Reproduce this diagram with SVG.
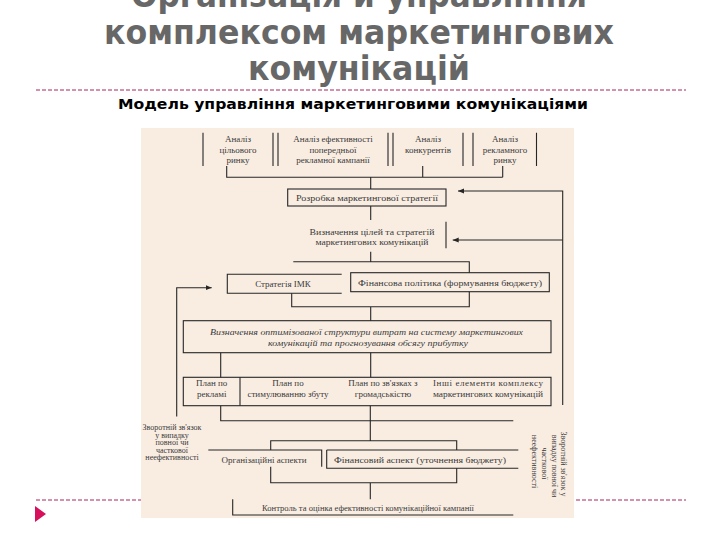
<svg xmlns="http://www.w3.org/2000/svg" width="720" height="540" viewBox="0 0 720 540">
<defs>
<style>
.title{font-family:"DejaVu Sans","Liberation Sans",sans-serif;font-weight:bold;font-size:34px;fill:#676767;text-anchor:middle}
.sub{font-family:"DejaVu Sans","Liberation Sans",sans-serif;font-weight:bold;font-size:14.5px;fill:#000;text-anchor:middle}
.rule{stroke:#a8245e;stroke-width:1;stroke-dasharray:4 2;fill:none}
.ln{stroke:#262626;stroke-width:1.1;fill:none}
.t{font-family:"Liberation Serif","Times New Roman",serif;font-size:9px;fill:#3a3a3a;text-anchor:middle}
.ts{font-size:8px}
.ti{font-style:italic}
</style>
<marker id="arr" markerWidth="6" markerHeight="6" refX="6" refY="3" orient="auto" markerUnits="userSpaceOnUse">
<path d="M0,0.5 L6,3 L0,5.5 z" fill="#262626"/>
</marker>
</defs>
<rect width="720" height="540" fill="#ffffff"/>
<g id="title">
<text class="title" x="359" y="7" textLength="456" lengthAdjust="spacingAndGlyphs">Організація й управління</text>
<text class="title" x="359" y="44" textLength="510" lengthAdjust="spacingAndGlyphs">комплексом маркетингових</text>
<text class="title" x="359" y="80" textLength="222" lengthAdjust="spacingAndGlyphs">комунікацій</text>
</g>
<line class="rule" x1="36" y1="90" x2="686" y2="90"/>
<line class="rule" x1="36" y1="500" x2="686" y2="500"/>
<polygon points="35,506 46,514 35,522" fill="#d6105a"/>
<g id="subtitle">
<text class="sub" x="353" y="109" textLength="470" lengthAdjust="spacingAndGlyphs">Модель управління маркетинговими комунікаціями</text>
</g>
<rect x="141" y="128" width="433" height="390" fill="#f9ede2"/>

<g id="n-analiz-rynku">
<path class="ln" d="M203,132.7 V166 M273,132.7 V166"/>
<text class="t" x="238" y="142">Аналіз</text>
<text class="t" x="238" y="152.5">цільового</text>
<text class="t" x="238" y="163">ринку</text>
</g>
<g id="n-analiz-kampanii">
<path class="ln" d="M278,132.7 V166 M388,132.7 V166"/>
<text class="t" x="333" y="142">Аналіз ефективності</text>
<text class="t" x="333" y="152.5">попередньої</text>
<text class="t" x="333" y="163">рекламної кампанії</text>
</g>
<g id="n-analiz-konkurentiv">
<path class="ln" d="M393,132.7 V166 M463,132.7 V166"/>
<text class="t" x="428" y="142">Аналіз</text>
<text class="t" x="428" y="152.5">конкурентів</text>
</g>
<g id="n-analiz-reklamnogo">
<path class="ln" d="M473,132.7 V166 M536.5,132.7 V166"/>
<text class="t" x="505" y="142">Аналіз</text>
<text class="t" x="505" y="152.5">рекламного</text>
<text class="t" x="505" y="163">ринку</text>
</g>

<g id="n-rozrobka">
<rect class="ln" x="287.7" y="189" width="158.3" height="17"/>
<text class="t" x="367" y="200.5" textLength="142" lengthAdjust="spacingAndGlyphs">Розробка маркетингової стратегії</text>
</g>
<g id="n-vyznachennia">
<path class="ln" d="M446,221.7 V248.3"/>
<text class="t" x="372" y="234.5" textLength="125" lengthAdjust="spacingAndGlyphs">Визначення цілей та стратегій</text>
<text class="t" x="372" y="245" textLength="113" lengthAdjust="spacingAndGlyphs">маркетингових комунікацій</text>
</g>
<g id="n-strategiia-imk">
<path class="ln" d="M341.7,274.3 H227.3 V293.3 H341.7"/>
<text class="t" x="283" y="286.5">Стратегія ІМК</text>
</g>
<g id="n-finansova">
<rect class="ln" x="350.7" y="272.7" width="198.6" height="19"/>
<text class="t" x="450" y="285.5" textLength="184" lengthAdjust="spacingAndGlyphs">Фінансова політика (формування бюджету)</text>
</g>
<g id="n-optymizatsiia">
<rect class="ln" x="183.3" y="320.7" width="367.7" height="32"/>
<text class="t ti" x="366.5" y="334.5" textLength="313" lengthAdjust="spacingAndGlyphs">Визначення оптимізованої структури витрат на систему маркетингових</text>
<text class="t ti" x="368" y="345.5" textLength="200" lengthAdjust="spacingAndGlyphs">комунікацій та прогнозування обсягу прибутку</text>
</g>
<g id="n-plany">
<rect class="ln" x="183.3" y="377.3" width="367.7" height="28.4"/>
<path class="ln" d="M240,377.3 V405.7"/>
<text class="t" x="211.7" y="385.5">План по</text>
<text class="t" x="211.7" y="396.5">рекламі</text>
<text class="t" x="288" y="385.5">План по</text>
<text class="t" x="288" y="396.5">стимулюванню збуту</text>
<text class="t" x="383" y="385.5">План по зв'язках з</text>
<text class="t" x="383" y="396.5">громадськістю</text>
<text class="t" x="488" y="385.5" textLength="110" lengthAdjust="spacing">Інші елементи комплексу</text>
<text class="t" x="488" y="396.5" textLength="110" lengthAdjust="spacingAndGlyphs">маркетингових комунікацій</text>
</g>
<g id="n-feedback-left">
<text class="t ts" x="172" y="430">Зворотній зв'язок</text>
<text class="t ts" x="172" y="437.5">у випадку</text>
<text class="t ts" x="172" y="445">повної чи</text>
<text class="t ts" x="172" y="452.5">часткової</text>
<text class="t ts" x="172" y="460">неефективності</text>
</g>
<g id="n-org-aspekty">
<path class="ln" d="M208.3,450 H321.7 V466.7"/>
<text class="t" x="264" y="462.5">Організаційні аспекти</text>
</g>
<g id="n-fin-aspekt">
<path class="ln" d="M326.7,450 H518.3 M326.7,450 V468.3 H518.3"/>
<text class="t" x="420" y="462.5" textLength="172" lengthAdjust="spacingAndGlyphs">Фінансовий аспект (уточнення бюджету)</text>
</g>
<g id="n-kontrol">
<path class="ln" d="M232.7,499.3 V515 H513.3"/>
<text class="t" x="368" y="511" textLength="212" lengthAdjust="spacingAndGlyphs">Контроль та оцінка ефективності комунікаційної кампанії</text>
</g>
<g id="n-feedback-right">
<text class="t ts" transform="translate(561,464) rotate(90)">Зворотній зв'язок у</text>
<text class="t ts" transform="translate(552,466) rotate(90)">випадку повної чи</text>
<text class="t ts" transform="translate(542,463.5) rotate(90)">часткової</text>
<text class="t ts" transform="translate(532,461.5) rotate(90)">неефективності</text>
</g>

<g id="connectors">
<path class="ln" d="M226.7,166 V177.3 H502.7 M422.7,166 V177.3 M502.7,166 V177.3 M370.7,177.3 V189"/>
<path class="ln" d="M370.7,206 V220"/>
<path class="ln" d="M370.7,251.7 V261.7 M293.3,261.7 H469.3 V272.7"/>
<path class="ln" d="M291.7,293.3 V306.7 H469.3 V291.7 M370.7,306.7 V320.7"/>
<path class="ln" d="M220.7,352.7 V377.3 M370.7,352.7 V377.3"/>
<path class="ln" d="M220.7,405.7 V420.7 H513.3 M370.3,405.7 V440.7 M270.7,450 V440.7 H456.7 V450"/>
<path class="ln" d="M270.7,466.7 V482.7 H456.7 V468.3 M370.3,482.7 V499.3"/>
<path class="ln" d="M562.7,405 V191 H458" marker-end="url(#arr)"/>
<path class="ln" d="M562.7,240 H452.7" marker-end="url(#arr)"/>
<path class="ln" d="M176.7,416.5 V287.7 H211.7" marker-end="url(#arr)"/>
</g>
</svg>
